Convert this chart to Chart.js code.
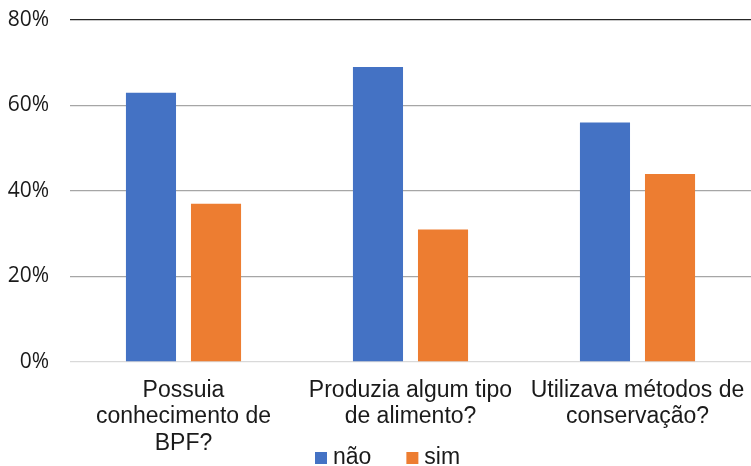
<!DOCTYPE html>
<html>
<head>
<meta charset="utf-8">
<script src="https://cdn.jsdelivr.net/npm/chart.js@4.4.0/dist/chart.umd.min.js"></script>
<style>
  html, body { margin: 0; padding: 0; background: #fff; }
  #wrap { width: 751px; height: 466px; }
</style>
</head>
<body>
<div id="wrap"><canvas id="chart"></canvas></div>
<script>
const categories = [
    ['Possuia', 'conhecimento de', 'BPF?'],
    ['Produzia algum tipo', 'de alimento?'],
    ['Utilizava métodos de', 'conservação?']
];
const naoValues = [63, 69, 56];
const simValues = [37, 31, 44];
const yTicks = [0, 20, 40, 60, 80];

// legend drawn by hand, below the x labels (the built-in one would squeeze the axis)
const bottomLegend = {
    id: 'bottomLegend',
    afterDraw(chart) {
        const c = chart.ctx;
        c.save();
        c.font = '23px "Liberation Sans", Arial';
        c.textBaseline = 'middle';
        let x = 315;
        const y = 458;
        chart.data.datasets.forEach(ds => {
            c.fillStyle = ds.backgroundColor;
            c.fillRect(x, y - 6, 12, 12);
            x += 18;
            c.fillStyle = '#1a1a1a';
            c.fillText(ds.label, x, y);
            x += c.measureText(ds.label).width + 35;
        });
        c.restore();
    }
};

const ctx = document.getElementById('chart').getContext('2d');

new Chart(ctx, {
    type: 'bar',
    data: {
        labels: categories,
        datasets: [
            { label: 'não', data: naoValues, backgroundColor: '#4472C4' },
            { label: 'sim', data: simValues, backgroundColor: '#ED7D31' }
        ]
    },
    options: {
        responsive: true,
        maintainAspectRatio: false,
        animation: false,
        layout: { padding: { left: 0, right: 0, top: 20, bottom: 0 } },
        datasets: {
            bar: { categoryPercentage: 0.573, barPercentage: 0.77 }
        },
        scales: {
            x: {
                grid: { display: false },
                border: { display: false },
                ticks: {
                    color: '#1a1a1a',
                    font: { family: 'Liberation Sans, Arial', size: 23, lineHeight: 1.16 },
                    padding: 7,
                    maxRotation: 0,
                    autoSkip: false
                },
                afterFit: function (scale) {
                    scale.height = 104;
                    scale.paddingLeft = 0;
                    scale.paddingRight = 0;
                }
            },
            y: {
                min: 0,
                max: 80,
                afterBuildTicks: function (scale) {
                    scale.ticks = yTicks.map(v => ({ value: v }));
                },
                afterFit: function (scale) {
                    scale.width = 70;
                    scale.paddingTop = 0;
                    scale.paddingBottom = 0;
                },
                border: { display: false },
                grid: {
                    drawTicks: false,
                    lineWidth: 1.3,
                    color: function (c) {
                        if (c.tick.value === 80) return '#262626';
                        if (c.tick.value === 0) return '#d9d9d9';
                        return '#a6a6a6';
                    }
                },
                ticks: {
                    color: '#1a1a1a',
                    font: { family: 'Open Sans', size: 21 },
                    padding: 21,
                    callback: function (v) { return v + '%'; }
                }
            }
        },
        plugins: {
            legend: { display: false },
            tooltip: { enabled: false }
        }
    },
    plugins: [bottomLegend]
});
</script>
</body>
</html>
